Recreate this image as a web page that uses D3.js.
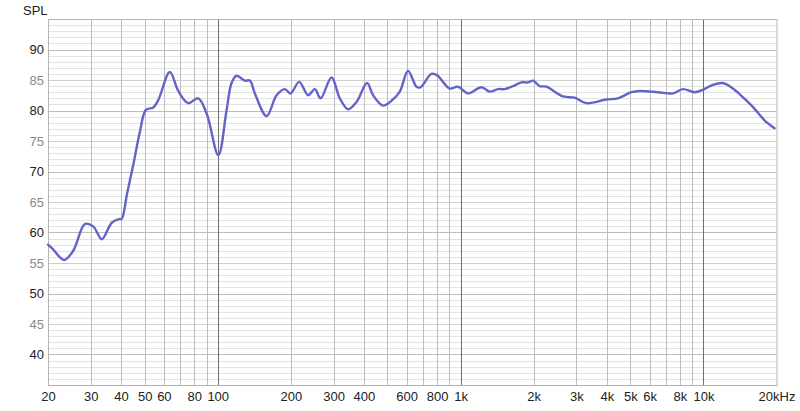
<!DOCTYPE html>
<html>
<head>
<meta charset="utf-8">
<script src="https://cdn.jsdelivr.net/npm/d3@7"></script>
<style>
  html, body { margin: 0; padding: 0; background: #fff; }
  svg { display: block; font-family: "Liberation Sans", Arial, Helvetica, sans-serif; }
</style>
</head>
<body>
<svg id="chart" width="800" height="411"></svg>
<script>
// ---- data ----
const freqs = [20, 20.8, 23.3, 25.4, 28.4, 30.7, 33.3, 36.6, 39.3, 40.2, 42.4, 44.9, 47.8, 50.6, 54.3, 56.9,
  63.5, 68.8, 75.6, 83.1, 90.0, 100.6, 108.8, 114, 119.5, 129.3, 135.6, 142.2, 158.9, 174.7, 188.9, 199.4,
  216.4, 235.7, 251.2, 265.1, 294.2, 318.2, 344.2, 372.8, 412.2, 436.4, 479.6, 519.4, 562, 607.8, 658.2,
  683.6, 758.6, 799.8, 902, 976, 1073, 1219, 1318, 1426, 1520, 1644, 1781, 1895, 1987, 2116, 2256, 2640,
  2950, 3296, 3984, 4446, 5050, 5462, 6496, 7488, 8230, 9196, 9948, 10940, 12024, 13222, 14532, 15980,
  17854, 19626];
const spl = [58.0, 57.4, 55.5, 57.0, 61.4, 61.0, 58.9, 61.6, 62.2, 62.2, 66.5, 71.1, 76.5, 80.1, 80.5, 81.7,
  86.3, 83.2, 81.2, 82.0, 79.5, 72.7, 80.1, 84.5, 85.7, 84.9, 84.9, 82.8, 79.1, 82.5, 83.5, 82.8,
  84.7, 82.5, 83.5, 82.0, 85.4, 82.0, 80.2, 81.4, 84.5, 82.5, 80.8, 81.6, 83.1, 86.5, 83.9,
  83.8, 86.0, 85.8, 83.6, 83.9, 82.8, 83.8, 83.1, 83.5, 83.5, 84.0, 84.6, 84.6, 84.9, 84.0, 83.9, 82.3,
  82.1, 81.2, 81.8, 82.0, 83.0, 83.2, 83.0, 82.8, 83.5, 83.0, 83.4, 84.2, 84.5, 83.6, 82.2, 80.6,
  78.4, 77.1];

const yTicks = [40, 45, 50, 55, 60, 65, 70, 75, 80, 85, 90];
const xTickValues = [20, 30, 40, 50, 60, 80, 100, 200, 300, 400, 600, 800, 1000, 2000, 3000, 4000, 5000, 6000, 8000, 10000, 20000];
const xTickLabels = ["20", "30", "40", "50", "60", "80", "100", "200", "300", "400", "600", "800", "1k", "2k", "3k", "4k", "5k", "6k", "8k", "10k", "20kHz"];
const yTitle = "SPL";

(function () {
// ---- layout ----
const svg = d3.select("#chart");
const pL = 48, pR = 776.5, pT = 19, pB = 385;

const x = d3.scaleLog().domain([20, 20000]).range([pL, pR]);
const y = d3.scaleLinear().domain([35, 95]).range([pB, pT]);

// horizontal grid: every 1 dB
const g = svg.append("g");
const dbLines = d3.range(36, 95);
g.selectAll("line.h").data(dbLines).enter().append("line")
  .attr("x1", pL).attr("x2", pR)
  .attr("y1", d => Math.round(y(d)) + 0.5).attr("y2", d => Math.round(y(d)) + 0.5)
  .attr("stroke", d => d % 10 === 0 ? "#bdbdbd" : (d % 5 === 0 ? "#cfcfcf" : "#e2e2e2"))
  .attr("stroke-width", 1);

// vertical grid: 1-9 per decade
const vLines = [];
[10, 100, 1000, 10000].forEach(dec => { for (let k = 1; k <= 9; k++) { const f = dec * k; if (f > 20 && f < 20000) vLines.push(f); } });
g.selectAll("line.v").data(vLines).enter().append("line")
  .attr("y1", pT).attr("y2", pB)
  .attr("x1", d => Math.round(x(d)) + 0.5).attr("x2", d => Math.round(x(d)) + 0.5)
  .attr("stroke", d => [100, 1000, 10000].includes(d) ? "#6e6e6e" : "#bdbdbd")
  .attr("stroke-width", 1);

// frame
svg.append("rect")
  .attr("x", pL + 0.5).attr("y", pT + 0.5)
  .attr("width", pR - pL).attr("height", pB - pT)
  .attr("fill", "none").attr("stroke", "#b5b5b5").attr("stroke-width", 1);

// y axis labels
const yAxis = d3.axisLeft(y).tickValues(yTicks).tickSize(0).tickPadding(4).tickFormat(d3.format("d"));
const ya = svg.append("g").attr("transform", `translate(${pL},0)`).call(yAxis);
ya.select(".domain").remove();
ya.selectAll("text")
  .attr("font-size", 13)
  .attr("font-family", "'Liberation Sans', Arial, sans-serif")
  .attr("fill", d => d % 10 === 0 ? "#222" : "#8a8a8a");

// x axis labels
const xAxis = d3.axisBottom(x).tickValues(xTickValues).tickSize(0).tickPadding(7)
  .tickFormat((d, i) => xTickLabels[i]);
const xa = svg.append("g").attr("transform", `translate(0,${pB})`).call(xAxis);
xa.select(".domain").remove();
xa.selectAll("text")
  .attr("font-size", 13)
  .attr("font-family", "'Liberation Sans', Arial, sans-serif")
  .attr("fill", "#222");

// y title
svg.append("text").attr("x", 23).attr("y", 15)
  .attr("font-size", 13).attr("fill", "#222").text(yTitle);

// curve
const pts = freqs.map((f, i) => [f, spl[i]]);
const line = d3.line().x(d => x(d[0])).y(d => y(d[1])).curve(d3.curveCatmullRom.alpha(0.5));
svg.append("path").datum(pts)
  .attr("d", line)
  .attr("fill", "none")
  .attr("stroke", "#6464c8")
  .attr("stroke-width", 2.4)
  .attr("stroke-linejoin", "round")
  .attr("stroke-linecap", "round");
})();
</script>
</body>
</html>
